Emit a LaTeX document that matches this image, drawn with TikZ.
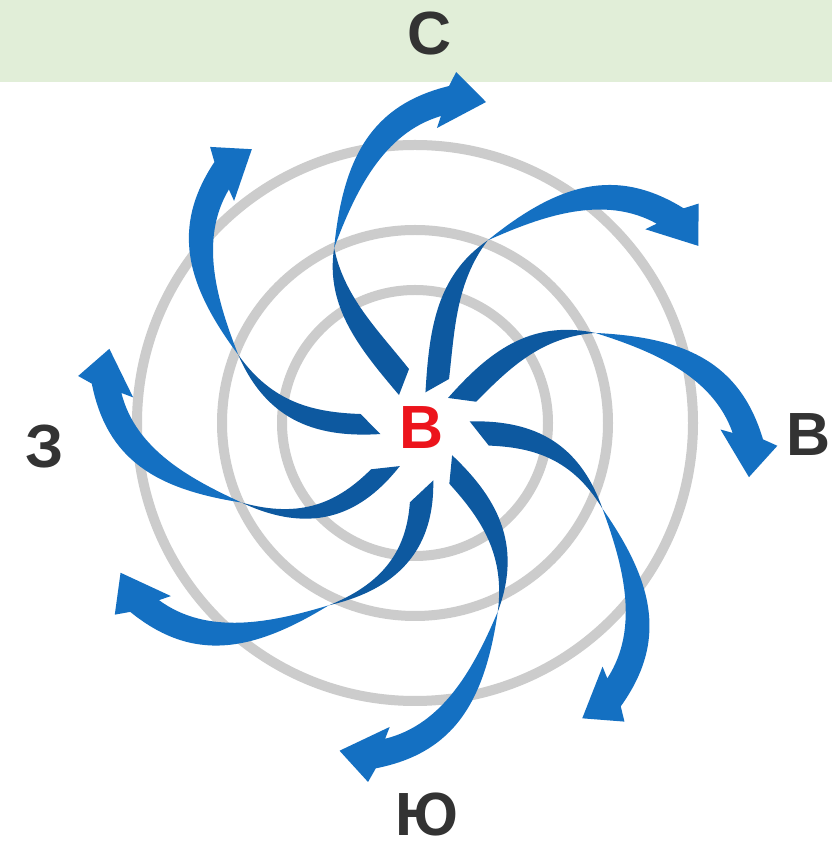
\documentclass[tikz,border=0pt]{standalone}
\usepackage{fontspec}
\setmainfont{Liberation Sans}
\definecolor{bandgreen}{RGB}{225,238,216}
\definecolor{swdark}{RGB}{13,89,160}
\definecolor{swbright}{RGB}{20,112,194}
\definecolor{ringgray}{RGB}{204,204,204}
\definecolor{lettergray}{RGB}{51,51,51}
\definecolor{eyered}{RGB}{236,20,28}
\begin{document}
\begin{tikzpicture}[x=1pt, y=1pt,
    ring/.style={draw=ringgray, line width=10pt},
    compass/.style={text=lettergray, inner sep=0pt, font=\bfseries\fontsize{61}{61}\selectfont}]
  \useasboundingbox (0,0) rectangle (832,849);
  \fill[white] (0,0) rectangle (832,849);
  \fill[bandgreen] (0,767) rectangle (832,849);
  % the three rings
  \foreach \rr in {133,193,278}
    \draw[ring] (415,426) circle (\rr);
  % eight swirling arrows: \tipa = angle of the tip, \far = shift of the outer part,
  % \twist and \reach bend the dark stub
  \foreach \tipa/\far/\twist/\reach in {78.55/0/0/0, 33.2/0/4.15/-3, -8.5/0/11.55/2,
      -60.8/0/24.45/11, -104/0/19.75/3, -154.2/0/34.45/15, -194.3/-12/32.45/4,
      121.1/-7/23.65/1}{
    \begin{scope}[shift={(420,421)}]
      \coordinate (u0) at ({\tipa+22.01+\twist}:{60+(\reach)});
      \coordinate (cu1) at ({\tipa+34.65+0.67*\twist}:{106.6+0.67*(\reach)});
      \coordinate (cu2) at ({\tipa+41.55+0.33*\twist}:{151.4+0.33*(\reach)+0.3*(\far)});
      \coordinate (m) at ({\tipa+36.95}:{199.5+0.5*(\far)});
      \coordinate (cd1) at ({\tipa+49.55+0.33*\twist}:{153.8+0.33*(\reach)+0.3*(\far)});
      \coordinate (cd2) at ({\tipa+48.65+0.67*\twist}:{99.2+0.67*(\reach)});
      \coordinate (d0) at ({\tipa+43.95+\twist}:{39.1+(\reach)});
      \coordinate (lc1) at ({\tipa+27.35}:{280.8+0.8*(\far)});
      \coordinate (lc2) at ({\tipa+20.05}:{326.7+(\far)});
      \coordinate (j1) at ({\tipa+6.6}:{343.2+(\far)});
      \coordinate (w1) at ({\tipa+5.65}:{357.8+(\far)});
      \coordinate (tip) at ({\tipa}:{332.6+(\far)});
      \coordinate (w2) at ({\tipa+8.21}:{300.5+(\far)});
      \coordinate (j2) at ({\tipa+7.6}:{312.7+(\far)});
      \coordinate (rc1) at ({\tipa+18.6}:{297.3+(\far)});
      \coordinate (rc2) at ({\tipa+26.85}:{244.8+0.8*(\far)});
      \fill[swdark] (u0) .. controls (cu1) and (cu2) .. (m)
        .. controls (cd1) and (cd2) .. (d0) -- cycle;
      \fill[swbright] (m) .. controls (lc1) and (lc2) .. (j1) -- (w1) -- (tip)
        -- (w2) -- (j2) .. controls (rc1) and (rc2) .. (m) -- cycle;
    \end{scope}
  }
  % compass letters
  \node[compass] (north) at (430,815) {С};
  \node[compass] (east) at (809,414) {В};
  \node[compass] (west) at (45,402) {З};
  \node[compass] (south) at (427,34) {Ю};
  \node[compass, text=eyered] (eye) at (422,421) {В};
\end{tikzpicture}
\end{document}
